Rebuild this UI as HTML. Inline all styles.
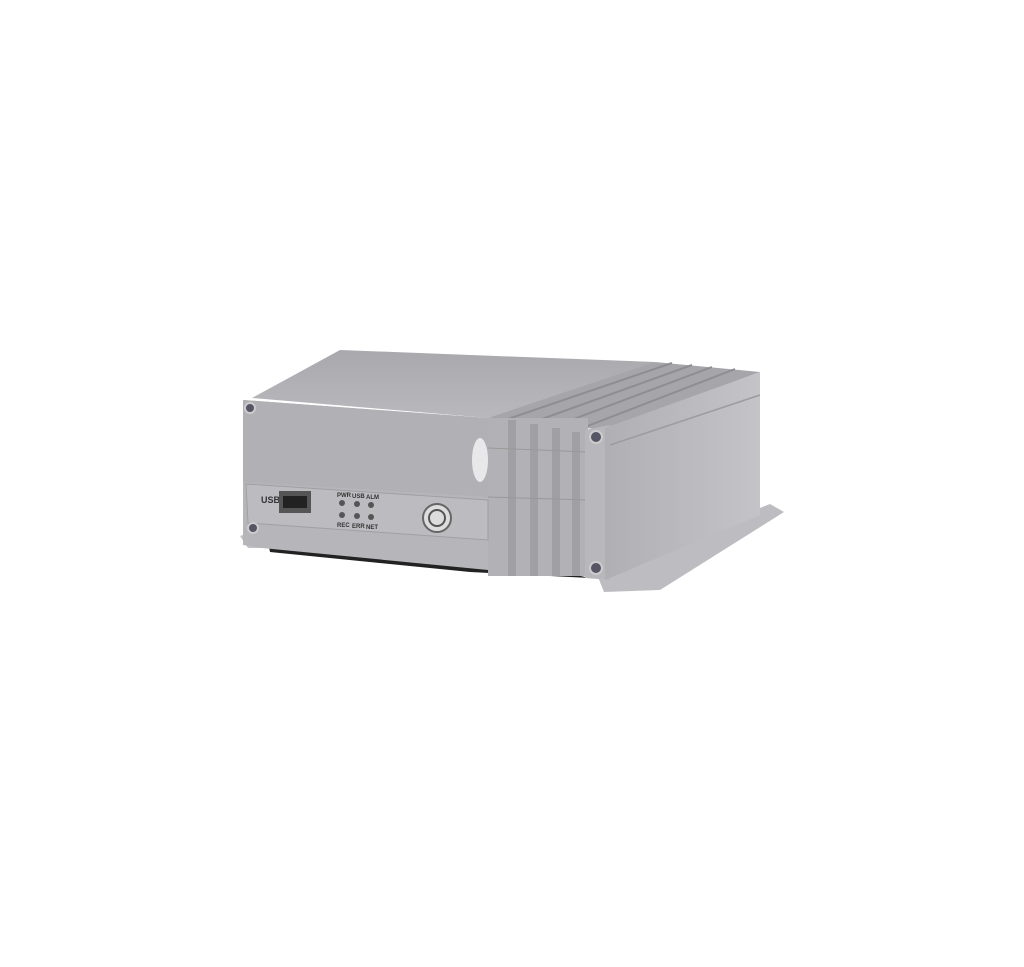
<!DOCTYPE html>
<html><head><style>
html,body{margin:0;padding:0;background:#fff;width:1024px;height:967px;overflow:hidden}
svg{display:block}
text{font-family:"Liberation Sans",sans-serif;fill:#333;font-weight:bold}
</style></head><body>
<svg width="1024" height="967" viewBox="0 0 1024 967">
<defs>
<linearGradient id="top" x1="0" y1="0" x2="0" y2="1"><stop offset="0" stop-color="#a9a9ad"/><stop offset="1" stop-color="#b9b9bd"/></linearGradient>
<linearGradient id="side" x1="0" y1="0" x2="1" y2="0"><stop offset="0" stop-color="#b0b0b4"/><stop offset="1" stop-color="#c4c4c8"/></linearGradient>
</defs>
<!-- shadow -->
<polygon points="268,542 470,552 590,578 470,572 270,552" fill="#222"/>
<!-- bottom left flange -->
<polygon points="240,536 262,528 275,548 248,548" fill="#c2c2c6"/>
<!-- right flange -->
<polygon points="596,572 770,504 784,512 660,590 604,592" fill="#bdbdc1"/>
<!-- top face -->
<polygon points="252,398 340,350 655,362 612,380 488,418" fill="url(#top)"/>
<!-- fins top -->
<polygon points="488,418 655,362 760,372 605,430" fill="#a6a6aa"/>
<g stroke="#8e8e92" stroke-width="2">
<line x1="505" y1="420" x2="672" y2="363"/><line x1="528" y1="424" x2="692" y2="365"/>
<line x1="550" y1="428" x2="712" y2="367"/><line x1="572" y1="432" x2="735" y2="369"/>
</g>
<!-- fins front -->
<rect x="488" y="418" width="100" height="158" fill="#b2b2b6"/>
<g fill="#a0a0a4"><rect x="508" y="420" width="8" height="156"/><rect x="530" y="424" width="8" height="152"/><rect x="552" y="428" width="8" height="148"/><rect x="572" y="432" width="8" height="144"/></g>
<line x1="488" y1="448" x2="588" y2="452" stroke="#999" stroke-width="1"/>
<line x1="488" y1="497" x2="588" y2="500" stroke="#999" stroke-width="1"/>
<!-- front panel -->
<polygon points="243,400 488,418 488,570 262,548 243,545" fill="#b6b6ba"/>
<polygon points="243,400 488,418 488,497 243,482" fill="#b1b1b5"/>
<polygon points="246,484 488,500 488,540 248,523" fill="#bcbcc0" stroke="#a0a0a4"/>
<ellipse cx="480" cy="460" rx="8" ry="22" fill="#e8e8ea"/>
<!-- right end plate -->
<polygon points="585,430 610,425 610,580 585,578" fill="#b8b8bc"/>
<!-- right side -->
<polygon points="605,428 760,372 760,515 605,580" fill="url(#side)"/>
<line x1="610" y1="445" x2="760" y2="395" stroke="#9c9ca0" stroke-width="1.5"/>
<!-- USB etc -->
<text x="261" y="503" font-size="9">USB</text>
<rect x="279" y="491" width="32" height="22" fill="#555"/><rect x="283" y="496" width="24" height="12" fill="#222"/>
<g font-size="6"><text x="337" y="497">PWR</text><text x="352" y="498">USB</text><text x="366" y="499">ALM</text>
<text x="337" y="527">REC</text><text x="352" y="528">ERR</text><text x="366" y="529">NET</text></g>
<g fill="#555"><circle cx="342" cy="503" r="3"/><circle cx="357" cy="504" r="3"/><circle cx="371" cy="505" r="3"/>
<circle cx="342" cy="515" r="3"/><circle cx="357" cy="516" r="3"/><circle cx="371" cy="517" r="3"/></g>
<circle cx="437" cy="518" r="14" fill="#ddd" stroke="#666" stroke-width="2"/>
<circle cx="437" cy="518" r="8" fill="none" stroke="#555" stroke-width="2"/>
<!-- screws -->
<g fill="#556" stroke="#ccc" stroke-width="2"><circle cx="250" cy="408" r="5"/><circle cx="253" cy="528" r="5"/>
<circle cx="596" cy="437" r="6"/><circle cx="596" cy="568" r="6"/></g>
</svg>
</body></html>
